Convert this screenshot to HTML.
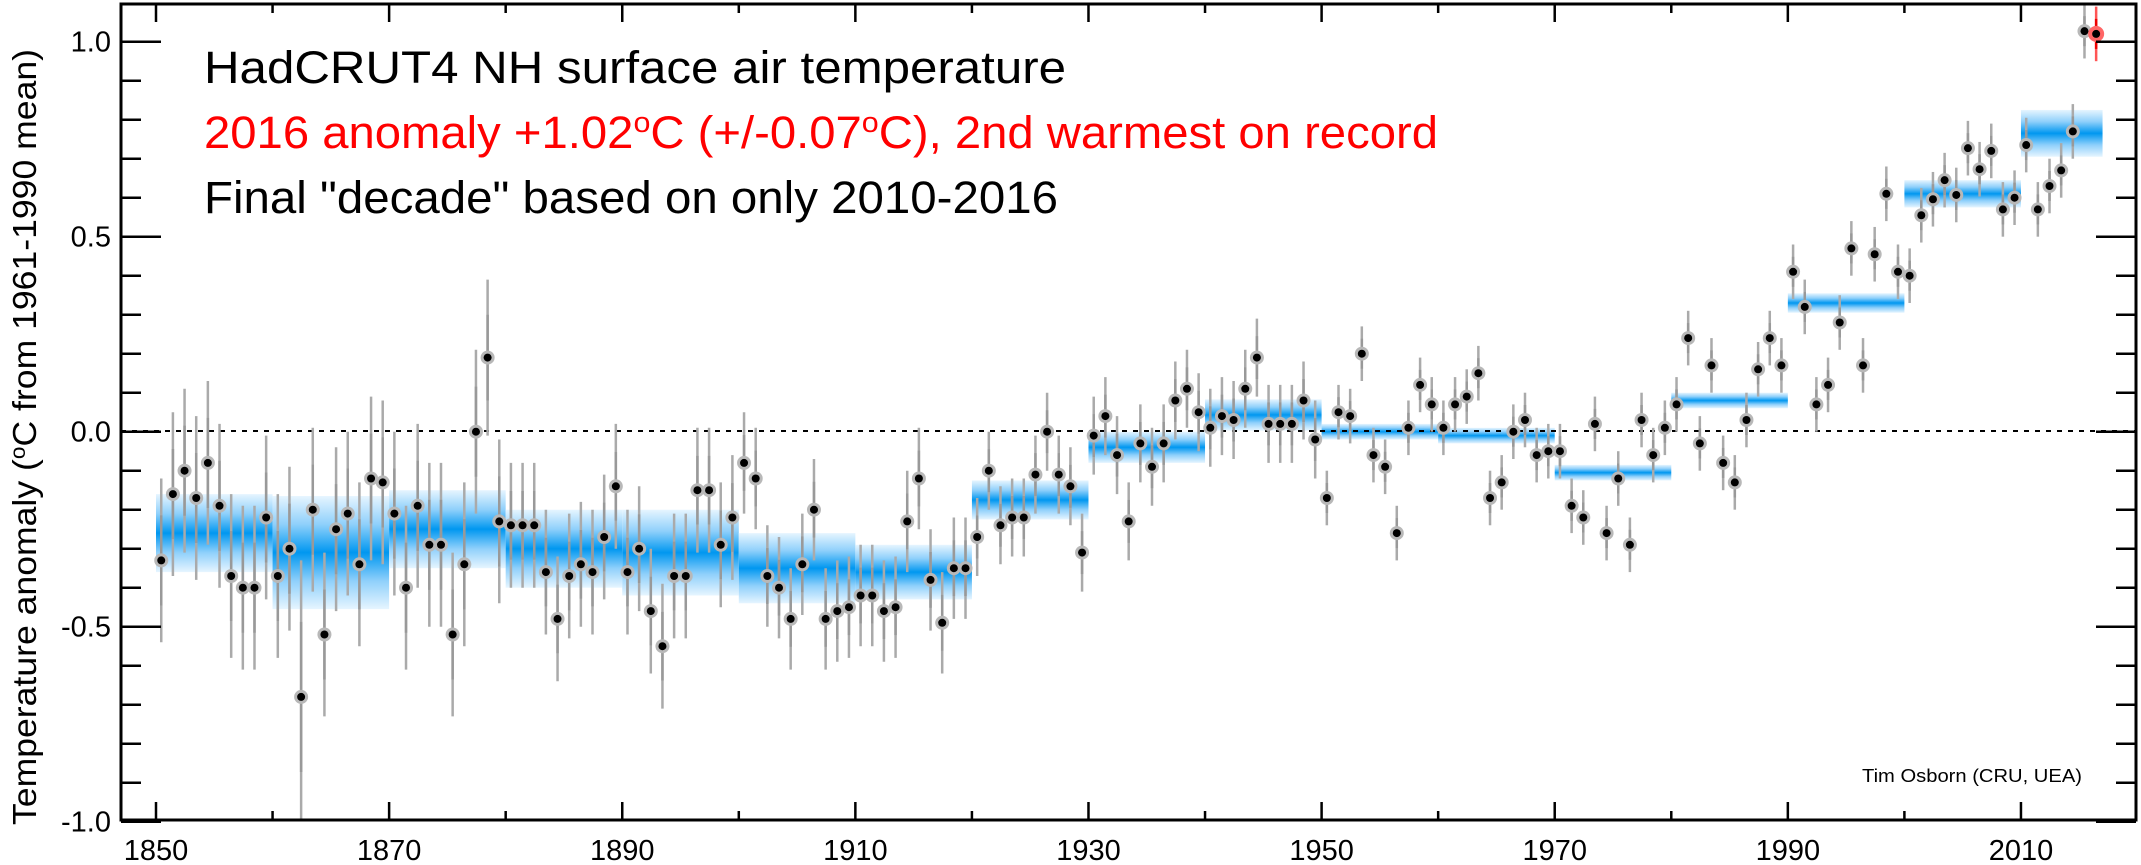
<!DOCTYPE html>
<html><head><meta charset="utf-8"><style>
html,body{margin:0;padding:0;background:#fff;}
svg{display:block;font-family:"Liberation Sans",Arial,sans-serif;}
</style></head><body>
<svg id="c" width="2141" height="865" viewBox="0 0 2141 865" xmlns="http://www.w3.org/2000/svg">
<defs>
<linearGradient id="g" x1="0" y1="0" x2="0" y2="1">
<stop offset="0" stop-color="#e6f5ff"/>
<stop offset="0.25" stop-color="#8fd0fb"/>
<stop offset="0.5" stop-color="#0097f0"/>
<stop offset="0.75" stop-color="#8fd0fb"/>
<stop offset="1" stop-color="#e6f5ff"/>
</linearGradient>
</defs>
<g id="bars"></g>
<line x1="121" y1="431" x2="2136" y2="431" stroke="#000" stroke-width="2" stroke-dasharray="5,6"/>
<g id="pts"></g>
<g id="axes"></g>
<text x="204" y="83" font-size="45" fill="#000" textLength="862" lengthAdjust="spacingAndGlyphs">HadCRUT4 NH surface air temperature</text>
<text x="204" y="148" font-size="45" fill="#f00" textLength="1234" lengthAdjust="spacingAndGlyphs">2016 anomaly +1.02<tspan font-size="29" dy="-16">o</tspan><tspan dy="16">C (+/-0.07</tspan><tspan font-size="29" dy="-16">o</tspan><tspan dy="16">C), 2nd warmest on record</tspan></text>
<text x="204" y="213" font-size="45" fill="#000" textLength="854" lengthAdjust="spacingAndGlyphs">Final "decade" based on only 2010-2016</text>
<text x="1862" y="782" font-size="18" fill="#000" textLength="220" lengthAdjust="spacingAndGlyphs">Tim Osborn (CRU, UEA)</text>
<text transform="translate(36,437) rotate(-90)" text-anchor="middle" font-size="33" fill="#000" textLength="776" lengthAdjust="spacingAndGlyphs">Temperature anomaly (<tspan font-size="21" dy="-11">o</tspan><tspan dy="11">C from 1961-1990 mean)</tspan></text>
</svg>
<script>
var NS="http://www.w3.org/2000/svg";
function X(y){return 156+11.656*(y-1850);}
function Y(v){return 431.7-390*v;}
function el(p,t,a){var e=document.createElementNS(NS,t);for(var k in a)e.setAttribute(k,a[k]);p.appendChild(e);return e;}
var d=[-0.33,-0.16,-0.10,-0.17,-0.08,-0.19,-0.37,-0.40,-0.40,-0.22,
-0.37,-0.30,-0.68,-0.20,-0.52,-0.25,-0.21,-0.34,-0.12,-0.13,
-0.21,-0.40,-0.19,-0.29,-0.29,-0.52,-0.34,0.00,0.19,-0.23,
-0.24,-0.24,-0.24,-0.36,-0.48,-0.37,-0.34,-0.36,-0.27,-0.14,
-0.36,-0.30,-0.46,-0.55,-0.37,-0.37,-0.15,-0.15,-0.29,-0.22,
-0.08,-0.12,-0.37,-0.40,-0.48,-0.34,-0.20,-0.48,-0.46,-0.45,
-0.42,-0.42,-0.46,-0.45,-0.23,-0.12,-0.38,-0.49,-0.35,-0.35,
-0.27,-0.10,-0.24,-0.22,-0.22,-0.11,0.00,-0.11,-0.14,-0.31,
-0.01,0.04,-0.06,-0.23,-0.03,-0.09,-0.03,0.08,0.11,0.05,
0.01,0.04,0.03,0.11,0.19,0.02,0.02,0.02,0.08,-0.02,
-0.17,0.05,0.04,0.20,-0.06,-0.09,-0.26,0.01,0.12,0.07,
0.01,0.07,0.09,0.15,-0.17,-0.13,0.00,0.03,-0.06,-0.05,
-0.05,-0.19,-0.22,0.02,-0.26,-0.12,-0.29,0.03,-0.06,0.01,
0.07,0.24,-0.03,0.17,-0.08,-0.13,0.03,0.16,0.24,0.17,
0.41,0.32,0.07,0.12,0.28,0.47,0.17,0.455,0.61,0.41,
0.40,0.555,0.596,0.645,0.607,0.727,0.673,0.72,0.57,0.60,
0.735,0.57,0.63,0.67,0.77,1.027,1.02];
var dec=[[-0.26,0.10],[-0.31,0.145],[-0.25,0.10],[-0.30,0.10],[-0.31,0.11],[-0.35,0.09],[-0.36,0.07],[-0.175,0.05],[-0.04,0.04],[0.043,0.04],[0.00,0.02],[-0.01,0.02],[-0.105,0.02],[0.08,0.02],[0.33,0.025],[0.61,0.035],[0.765,0.06]];
var b=document.getElementById("bars");
dec.forEach(function(q,i){var y0=1850+10*i,y1=(i==16)?2017:y0+10;
el(b,"rect",{x:X(y0),y:Y(q[0]+q[1]),width:X(y1)-X(y0),height:780*q[1],fill:"url(#g)"});});
var p=document.getElementById("pts");
d.forEach(function(v,i){var yr=1850+i;var e;
if(yr<1880)e=0.21;else if(yr<1900)e=0.16;else if(yr<1920)e=0.13;else if(yr<1950)e=0.1;else e=0.07;
if(yr==1862)e=0.35;if(yr==1878)e=0.2;
var x=X(yr+0.45),y=Y(v),red=(yr==2016);
el(p,"line",{x1:x,y1:Y(v+e),x2:x,y2:Math.min(Y(v-e),820),stroke:red?"#f55":"#aaa","stroke-width":2.5});
el(p,"line",{x1:x,y1:Y(v+e*0.55),x2:x,y2:Y(v-e*0.55),stroke:red?"#e00":"#999","stroke-width":2.5});
el(p,"circle",{cx:x,cy:y,r:red?8:7,fill:red?"#f66":"#b8b8b8"});
el(p,"circle",{cx:x,cy:y,r:4,fill:"#000"});});
var a=document.getElementById("axes");
el(a,"rect",{x:121,y:4,width:2015,height:816,fill:"none",stroke:"#000","stroke-width":3});
for(var k=-10;k<=10;k++){var v=k/10,y=Y(v);if(y<4||y>822)continue;var L=(k%5==0)?40:20;
el(a,"line",{x1:121,y1:y,x2:121+L,y2:y,stroke:"#000","stroke-width":2.5});
el(a,"line",{x1:2136-L,y1:y,x2:2136,y2:y,stroke:"#000","stroke-width":2.5});
if(k%5==0){var t=el(a,"text",{x:111,y:y+10,"text-anchor":"end","font-size":29});t.textContent=v.toFixed(1);}}
for(var yr=1850;yr<=2010;yr+=10){var x=X(yr),L=(yr%20==10)?18:9;
el(a,"line",{x1:x,y1:820,x2:x,y2:820-L,stroke:"#000","stroke-width":2.5});
el(a,"line",{x1:x,y1:4,x2:x,y2:4+L,stroke:"#000","stroke-width":2.5});
if(yr%20==10){var t=el(a,"text",{x:x,y:860,"text-anchor":"middle","font-size":29});t.textContent=yr;}}
</script>
</body></html>
